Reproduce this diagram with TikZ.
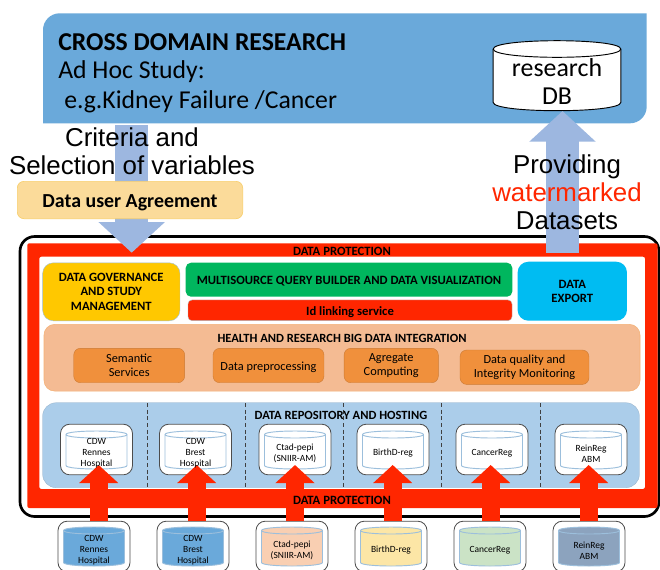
\documentclass[tikz,border=0pt]{standalone}
\usepackage{fontspec}
\setmainfont{Carlito}
\newfontfamily\arialfont{Liberation Sans}
\usetikzlibrary{arrows.meta}
\definecolor{topblue}{HTML}{6AA9DA}
\definecolor{arrowblue}{HTML}{9DB7E0}
\definecolor{protred}{HTML}{FF2600}
\definecolor{agreefill}{HTML}{FBDB9A}
\definecolor{agreeline}{HTML}{F8CF6E}
\definecolor{govyellow}{HTML}{FFC800}
\definecolor{querygreen}{HTML}{00B65E}
\definecolor{exportblue}{HTML}{00BCF2}
\definecolor{intpeach}{HTML}{F4BB93}
\definecolor{intorange}{HTML}{F0903C}
\definecolor{repoblue}{HTML}{ABCDEA}
\definecolor{cylline}{HTML}{9CBFDC}
\definecolor{cylpeach}{HTML}{F9CFB2}
\definecolor{cylyellow}{HTML}{FCE6A6}
\definecolor{cylgreen}{HTML}{CBE3C6}
\definecolor{cylslate}{HTML}{8CA3BE}
\tikzset{
  pushdown/.style={execute at begin node={\rule{0pt}{#1}}},
  box/.style={align=center,font=\bfseries\fontsize{9.5}{10.6}\selectfont,inner sep=0pt},
  subbox/.style={fill=intorange,draw=intorange!85!black,line width=.3pt,rounded corners=5pt,align=center,inner sep=0pt,minimum height=25.8pt,font=\fontsize{9.25}{10.3}\selectfont},
  title/.style={font=\bfseries\fontsize{9.4}{11}\selectfont,inner sep=0pt},
  cylframe/.style={draw=black!70,fill=white,line width=.6pt,rounded corners=7pt,minimum width=54pt,minimum height=38pt,inner sep=0pt},
  cyltext/.style={align=center,inner sep=0pt,font=\fontsize{7.1}{8.25}\selectfont},
  feedarrow/.style={draw=protred,line width=13.8pt,-{Triangle[length=13.5pt,width=28.5pt]}},
  flowarrow/.style={draw=arrowblue,line width=24.6pt,-{Triangle[length=23pt,width=48.5pt]}},
  biglabel/.style={font=\arialfont\fontsize{19.4}{21}\selectfont,align=center,inner sep=0pt},
}
% x, top, bottom, half width, ellipse height, fill, line
\newcommand{\dbcyl}[7]{
  \draw[fill=#6,draw=#7,line width=.7pt] ({#1-#4},{#2+#5}) -- ({#1-#4},{#3-#5})
    .. controls ({#1-#4},{#3+#5/3}) and ({#1+#4},{#3+#5/3}) .. ({#1+#4},{#3-#5})
    -- ({#1+#4},{#2+#5})
    .. controls ({#1+#4},{#2-#5/3}) and ({#1-#4},{#2-#5/3}) .. ({#1-#4},{#2+#5}) -- cycle;
  \draw[draw=#7,line width=.7pt] ({#1-#4},{#2+#5})
    .. controls ({#1-#4},{#2+#5*7/3}) and ({#1+#4},{#2+#5*7/3}) .. ({#1+#4},{#2+#5});
}
\begin{document}
\begin{tikzpicture}[x=.75pt,y=-.75pt]
\useasboundingbox (0,0) rectangle (660,569);
\fill[white] (0,0) rectangle (660,569);

% cross domain block
\fill[topblue] (43,123.3) [rounded corners=12.5pt] -- (43,13.3) [sharp corners] -- (646.7,13.3) [rounded corners=12.5pt] -- (646.7,123.3) [sharp corners] -- cycle;
\coordinate (research) at (131.7,125);
\node[anchor=west,inner sep=0pt,font=\bfseries\fontsize{19.3}{22}\selectfont] (crosstitle) at (58,42) {CROSS DOMAIN RESEARCH};
\node[anchor=west,inner sep=0pt,font=\fontsize{19.3}{22}\selectfont] (adhoc) at (58,72) {Ad Hoc Study:};
\node[anchor=west,inner sep=0pt,font=\fontsize{19.3}{22}\selectfont] (kidney) at (64,102) {e.g.Kidney Failure /Cancer};
\dbcyl{557}{40.7}{110.7}{63.8}{8.3}{white}{black}
\node[align=center,inner sep=0pt,font=\fontsize{19.4}{21}\selectfont] (researchdb) at (557,82) {research\\DB};

% main frame
\draw[line width=2pt,rounded corners=11pt] (20,236.5) rectangle (659,516.5);
\fill[protred,even odd rule,rounded corners=1.5pt] (27.3,243.3) rectangle (657.5,508) (39.3,256.7) rectangle (645,489);
\coordinate (protdown) at (131.7,252.7);
\coordinate (protup) at (562.5,252.7);
\coordinate (researchin) at (562.5,111);

% blue flow arrows
\draw[flowarrow] (research) -- (protdown);
\draw[flowarrow] (protup) -- (researchin);

\node[pushdown=14.5pt,fill=agreefill,draw=agreeline,line width=.5pt,rounded corners=5pt,minimum width=169pt,minimum height=28pt,inner sep=0pt,font=\bfseries\fontsize{14.9}{17}\selectfont] (agreement) at (130,200) {Data user Agreement};
\node[biglabel] (criteria) at (132,151.5) {Criteria and\\Selection of variables};
\node[biglabel] (providing) at (567,192) {Providing\\\textcolor{protred}{watermarked}\\Datasets};
\node[title,font=\bfseries\fontsize{9.5}{11}\selectfont] (prottop) at (342,251) {DATA PROTECTION};

% upper services
\node[box,pushdown=9pt,fill=govyellow,draw=cylline,line width=.3pt,rounded corners=8pt,minimum width=103pt,minimum height=43.5pt] (governance) at (111.3,291.8) {DATA GOVERNANCE\\AND STUDY\\MANAGEMENT};
\node[box,pushdown=9pt,fill=querygreen,rounded corners=4pt,minimum width=245pt,minimum height=25.5pt] (querybuilder) at (349,279.7) {MULTISOURCE QUERY BUILDER AND DATA VISUALIZATION};
\node[box,pushdown=9.7pt,fill=protred,draw=gray!60,line width=.3pt,rounded corners=3pt,minimum width=243pt,minimum height=15.5pt] (idlink) at (350,310.3) {Id linking service};
\node[box,pushdown=7.5pt,fill=exportblue,rounded corners=8pt,minimum width=82pt,minimum height=44.2pt] (export) at (572.3,291.2) {DATA\\EXPORT};

% integration
\node[fill=intpeach,draw=intorange!70,line width=.4pt,rounded corners=8pt,minimum width=447pt,minimum height=50pt,inner sep=0pt] (integration) at (342,357.7) {};
\node[title] (inttitle) at (342,338.3) {HEALTH AND RESEARCH BIG DATA INTEGRATION};
\node[subbox,pushdown=8pt,minimum width=83.2pt] (semantic) at (129.2,365.5) {Semantic\\Services};
\node[subbox,pushdown=9.5pt,minimum width=83.2pt] (preproc) at (268.5,365.5) {Data preprocessing};
\node[subbox,pushdown=9.5pt,minimum width=70.7pt] (aggregate) at (391.2,365.5) {Agregate\\Computing};
\node[subbox,pushdown=9.5pt,minimum width=96.7pt] (quality) at (524.5,367.2) {Data quality and\\Integrity Monitoring};

% repository
\node[fill=repoblue,draw=repoblue!85!black,line width=.2pt,rounded corners=10pt,minimum width=447.5pt,minimum height=63.7pt,inner sep=0pt] (repository) at (341,445.2) {};
\foreach \x in {147,245.7,343.3,441.7,540.7}
  \draw[densely dashed,line width=.4pt,black!75] (\x,403) -- (\x,487);
\node[title] (repotitle) at (341,415) {DATA REPOSITORY AND HOSTING};

% inner and source databases
\foreach \nm/\ix/\ox/\tx/\cc/\lab in {
  rennes/96.5/94/98.7/topblue/{CDW\\Rennes\\Hospital},
  brest/195.5/193/196.7/topblue/{CDW\\Brest\\Hospital},
  ctad/295/292/295/cylpeach/{Ctad-pepi\\(SNIIR-AM)},
  birth/393/391/392.7/cylyellow/{BirthD-reg},
  cancer/492/490/490.7/cylgreen/{CancerReg},
  rein/591/589/588.7/cylslate/{ReinReg\\ABM}}{
  \node[cylframe] (in\nm) at (\ix,449.5) {};
  \dbcyl{\ix}{431}{469}{30.5}{3.5}{white}{cylline}
  \node[cylframe] (out\nm) at (\ox,546.5) {};
  \dbcyl{\ox}{527}{566}{30.5}{3.5}{\cc}{cylline}
  \coordinate (tip\nm) at (\tx,465);
  \draw[feedarrow] (out\nm.north -| tip\nm) -- (tip\nm);
  \node[cyltext] (intext\nm) at (\ix,453.5) {\lab};
  \node[cyltext] (outtext\nm) at (\ox,550.5) {\lab};
}

% lower band label goes on top of arrows
\node[title,font=\bfseries\fontsize{9.5}{11}\selectfont] (protbottom) at (342,500) {DATA PROTECTION};
\end{tikzpicture}
\end{document}
